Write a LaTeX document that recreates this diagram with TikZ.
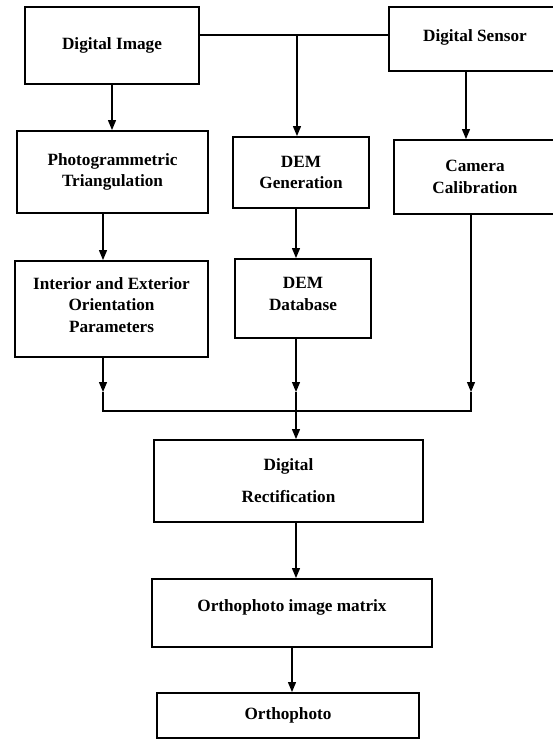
\documentclass[tikz,border=0pt]{standalone}
\usepackage{fontspec}
\setmainfont{Liberation Serif}
\usepackage{tikz}
\usetikzlibrary{arrows.meta}
\tikzset{
    box/.style={draw, line width=1.4pt, inner sep=0pt, align=center,
        font=\bfseries\fontsize{12.9}{16}\selectfont},
    arr/.style={-{Triangle[length=7.5pt, width=6pt]}, line width=0.9pt},
    link/.style={line width=0.9pt}
}

\begin{document}
\begin{tikzpicture}[x=0.75pt, y=-0.75pt]
                        \useasboundingbox (0, 0) rectangle (553, 740);
                        \clip (0, 0) rectangle (553, 740);
                        \node[box, minimum width=130.5pt, minimum height=57.75pt] (img) at (112, 45.5) {Digital Image};
                        \node[box, minimum width=129pt, minimum height=48pt, text depth=5pt] (sensor) at (475, 39) {Digital Sensor};
                        \node[box, minimum width=143.25pt, minimum height=61.5pt] (photo) at (112.5, 172) {Photogrammetric\\Triangulation};
                        \node[box, minimum width=102pt, minimum height=53.25pt] (demgen) at (301, 172.5) {DEM\\Generation};
                        \node[box, minimum width=121.5pt, minimum height=55.5pt] (camera) at (475, 177) {Camera\\Calibration};
                        \node[box, minimum width=144.75pt, minimum height=72pt, text depth=6pt] (interior) at (111.5, 309) {Interior and Exterior\\Orientation\\Parameters};
                        \node[box, minimum width=102pt, minimum height=59.25pt, text depth=7pt] (demdb) at (303, 298.5) {DEM\\Database};
                        \node[box, minimum width=201.75pt, minimum height=61.5pt] (rect) at (288.5, 481) {Digital\\[8pt]Rectification};
                        \node[box, minimum width=210pt, minimum height=51pt, text depth=11pt] (matrix) at (292, 613) {Orthophoto image matrix};
                        \node[box, minimum width=196.5pt, minimum height=33.75pt] (ortho) at (288, 715.5) {Orthophoto};
                        \coordinate (top) at (297, 35);
                        \coordinate (sx) at (466, 105);
                        \coordinate (ta) at (103, 392);
                        \coordinate (tb) at (296, 392);
                        \coordinate (tc) at (471, 392);
                        \coordinate (bus) at (296, 411);
                        \draw[link] (img.east |- top) -- (sensor.west |- top);
                        \draw[arr] (top) -- (demgen.north -| top);
                        \draw[arr] (img.south) -- (photo.north -| img.south);
                        \draw[arr] (sensor.south -| sx) -- (camera.north -| sx);
                        \draw[arr] (photo.south -| ta) -- (interior.north -| ta);
                        \draw[arr] (demgen.south -| tb) -- (demdb.north -| tb);
                        \draw[arr] (interior.south -| ta) -- (ta);
                        \draw[arr] (demdb.south -| tb) -- (tb);
                        \draw[arr] (camera.south -| tc) -- (tc);
                        \draw[link] (ta) |- (bus) -| (tc);
                        \draw[link] (tb) -- (bus);
                        \draw[arr] (bus) -- (rect.north -| bus);
                        \draw[arr] (rect.south -| bus) -- (matrix.north -| bus);
                        \draw[arr] (matrix.south) -- (ortho.north -| matrix.south);
                    \end{tikzpicture}
\end{document}
